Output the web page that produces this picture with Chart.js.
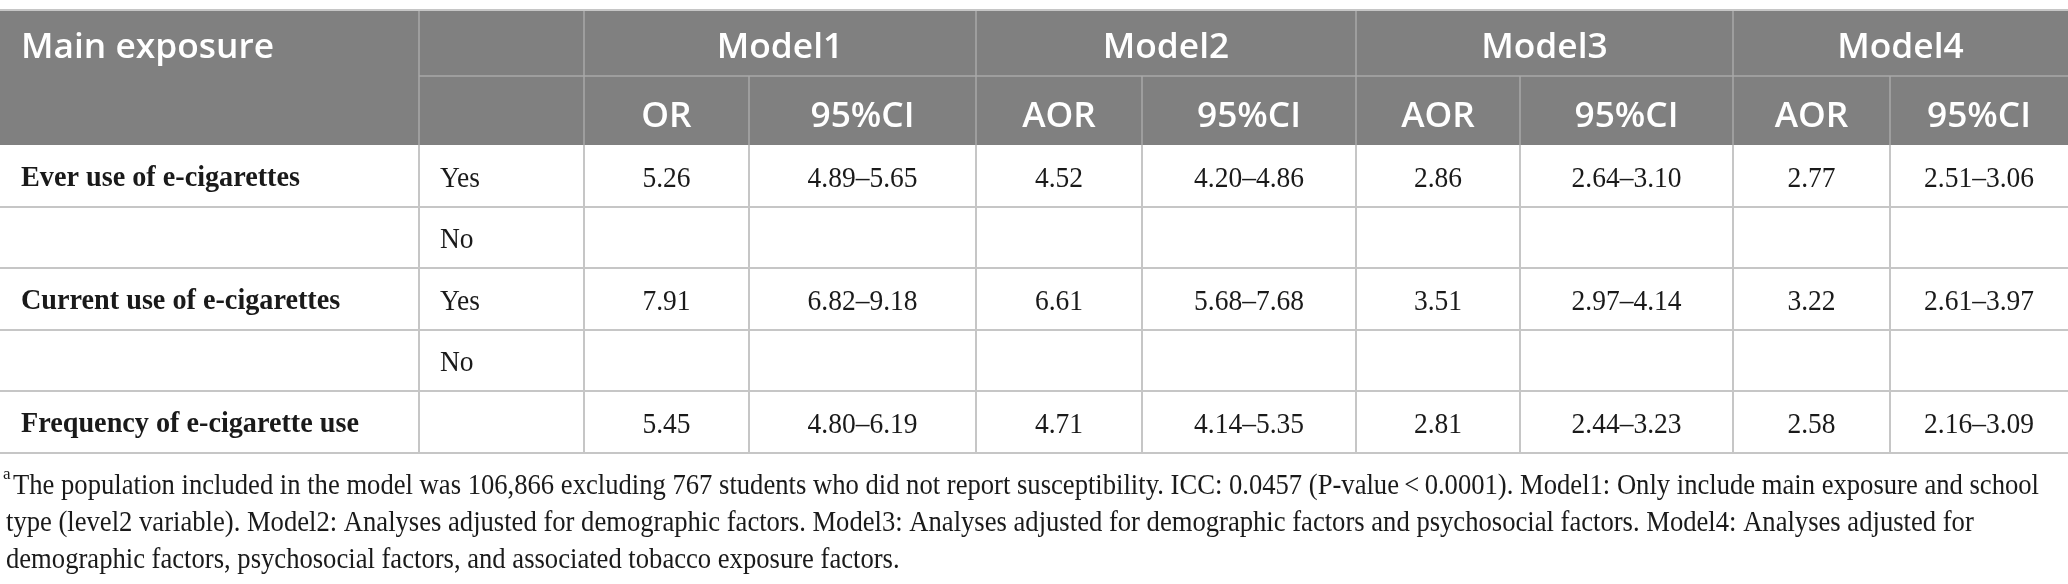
<!DOCTYPE html>
<html>
<head>
    <script src="https://cdn.jsdelivr.net/npm/chart.js@4.4.0/dist/chart.umd.min.js"></script>
    <title>E-cigarette exposure models</title>
    <style>
        body { margin: 0; background: #fff; }
        #graph-area { width: 2068px; height: 584px; }
    </style>
</head>
<body>
<div id="graph-area">
    <canvas id="myChart" width="2068" height="584"></canvas>
</div>

<script>
    // ---- table content ----
    var exposures = ['Ever use of e-cigarettes', '', 'Current use of e-cigarettes', '', 'Frequency of e-cigarette use'];
    var answers = ['Yes', 'No', 'Yes', 'No', ''];
    var models = ['Model1', 'Model2', 'Model3', 'Model4'];
    var estLabels = ['OR', 'AOR', 'AOR', 'AOR'];
    var ciLabel = '95%CI';

    var m1Est = [5.26, null, 7.91, null, 5.45];
    var m1Lo  = [4.89, null, 6.82, null, 4.80];
    var m1Hi  = [5.65, null, 9.18, null, 6.19];
    var m2Est = [4.52, null, 6.61, null, 4.71];
    var m2Lo  = [4.20, null, 5.68, null, 4.14];
    var m2Hi  = [4.86, null, 7.68, null, 5.35];
    var m3Est = [2.86, null, 3.51, null, 2.81];
    var m3Lo  = [2.64, null, 2.97, null, 2.44];
    var m3Hi  = [3.10, null, 4.14, null, 3.23];
    var m4Est = [2.77, null, 3.22, null, 2.58];
    var m4Lo  = [2.51, null, 2.61, null, 2.16];
    var m4Hi  = [3.06, null, 3.97, null, 3.09];

    var noteLines = [
        'The population included in the model was 106,866 excluding 767 students who did not report susceptibility. ICC: 0.0457 (P-value\u2009<\u20090.0001). Model1: Only include main exposure and school',
        'type (level2 variable). Model2: Analyses adjusted for demographic factors. Model3: Analyses adjusted for demographic factors and psychosocial factors. Model4: Analyses adjusted for',
        'demographic factors, psychosocial factors, and associated tobacco exposure factors.'
    ];

    // ---- layout (column widths / row heights in scale units) ----
    var colWidths = [419, 165, 165, 227, 166, 214, 164, 213, 157, 178];
    var rowHeights = [66, 69, 62, 61, 62, 61, 62];

    var colEdges = [0];
    colWidths.forEach(function (w) { colEdges.push(colEdges[colEdges.length - 1] + w); });
    var rowEdges = [0];
    rowHeights.forEach(function (h) { rowEdges.push(rowEdges[rowEdges.length - 1] + h); });
    var totalW = colEdges[colEdges.length - 1];
    var totalH = rowEdges[rowEdges.length - 1];

    var headerFont = '600 35px "Open Sans"';
    var boldFont = 'bold 29px "Liberation Serif"';
    var bodyFont = '29px "Liberation Serif"';
    var noteFont = '30px "Liberation Serif"';

    function stretchFor(ctx, font, sample, width) {
        ctx.font = font;
        return width / ctx.measureText(sample).width;
    }

    function drawText(ctx, text, x, y, align, sx) {
        ctx.save();
        ctx.translate(x, y);
        ctx.scale(sx, 1);
        ctx.textAlign = align;
        ctx.fillText(text, 0, 0);
        ctx.restore();
    }

    function line(ctx, x1, y1, x2, y2) {
        ctx.beginPath();
        ctx.moveTo(x1, y1);
        ctx.lineTo(x2, y2);
        ctx.stroke();
    }

    var tablePlugin = {
        id: 'tablePlugin',
        afterDraw: function (chart) {
            var ctx = chart.ctx;
            var xs = chart.scales.x, ys = chart.scales.y;
            var X = function (v) { return xs.getPixelForValue(v); };
            var Y = function (v) { return ys.getPixelForValue(v); };
            var midX = function (a, b) { return (X(colEdges[a]) + X(colEdges[b])) / 2; };
            var midY = function (r) { return (Y(rowEdges[r]) + Y(rowEdges[r + 1])) / 2; };

            ctx.save();
            // header background
            ctx.fillStyle = '#808080';
            ctx.fillRect(X(0), Y(0), X(totalW) - X(0), Y(rowEdges[2]) - Y(0));

            // header lines
            ctx.strokeStyle = '#a8a8a8';
            ctx.lineWidth = 1.5;
            line(ctx, X(colEdges[1]), Y(rowEdges[1]), X(totalW), Y(rowEdges[1]));
            [1, 2, 4, 6, 8].forEach(function (c) {
                line(ctx, X(colEdges[c]), Y(0), X(colEdges[c]), Y(rowEdges[1]));
            });
            for (var c = 1; c < colEdges.length - 1; c++) {
                line(ctx, X(colEdges[c]), Y(rowEdges[1]), X(colEdges[c]), Y(rowEdges[2]));
            }

            // body lines
            ctx.strokeStyle = '#c6c6c6';
            ctx.lineWidth = 2;
            line(ctx, X(0), Y(0), X(totalW), Y(0));
            for (var r = 3; r < rowEdges.length; r++) {
                line(ctx, X(0), Y(rowEdges[r]), X(totalW), Y(rowEdges[r]));
            }
            for (var c2 = 1; c2 < colEdges.length - 1; c2++) {
                line(ctx, X(colEdges[c2]), Y(rowEdges[2]), X(colEdges[c2]), Y(totalH));
            }

            // header text
            var hs = stretchFor(ctx, headerFont, 'Main exposure', 253);
            ctx.fillStyle = '#ffffff';
            ctx.textBaseline = 'middle';
            ctx.font = headerFont;
            drawText(ctx, 'Main exposure', X(0) + 21, midY(0) + 5, 'left', hs);
            models.forEach(function (m, i) {
                drawText(ctx, m, midX(2 + 2 * i, 4 + 2 * i), midY(0) + 5, 'center', hs);
                drawText(ctx, estLabels[i], midX(2 + 2 * i, 3 + 2 * i), midY(1) + 7, 'center', hs);
                drawText(ctx, ciLabel, midX(3 + 2 * i, 4 + 2 * i), midY(1) + 7, 'center', hs);
            });

            // body text
            var est = [m1Est, m2Est, m3Est, m4Est];
            var lo = [m1Lo, m2Lo, m3Lo, m4Lo];
            var hi = [m1Hi, m2Hi, m3Hi, m4Hi];
            var bs = stretchFor(ctx, boldFont, 'Frequency of e-cigarette use', 338);
            var ns = stretchFor(ctx, bodyFont, '4.89\u20135.65', 110);
            ctx.fillStyle = '#1a1a1a';
            exposures.forEach(function (label, i) {
                var yy = midY(i + 2) + 3;
                ctx.font = boldFont;
                if (label) drawText(ctx, label, X(0) + 21, yy, 'left', bs);
                ctx.font = bodyFont;
                if (answers[i]) drawText(ctx, answers[i], X(colEdges[1]) + 21, yy, 'left', ns);
                for (var m = 0; m < 4; m++) {
                    if (est[m][i] === null) continue;
                    drawText(ctx, est[m][i].toFixed(2), midX(2 + 2 * m, 3 + 2 * m), yy, 'center', ns);
                    drawText(ctx, lo[m][i].toFixed(2) + '\u2013' + hi[m][i].toFixed(2), midX(3 + 2 * m, 4 + 2 * m), yy, 'center', ns);
                }
            });

            // footnote
            var fs = stretchFor(ctx, noteFont, noteLines[0], 2026);
            var base = Y(totalH);
            ctx.font = '17px "Liberation Serif"';
            ctx.textAlign = 'left';
            ctx.fillText('a', X(0) + 3, base + 22);
            ctx.font = noteFont;
            noteLines.forEach(function (t, i) {
                drawText(ctx, t, X(0) + (i === 0 ? 13 : 6), base + 33 + 37 * i, 'left', fs);
            });
            ctx.restore();
        }
    };

    var ctx = document.getElementById('myChart').getContext('2d');
    var myChart = new Chart(ctx, {
        type: 'scatter',
        data: { datasets: [] },
        options: {
            responsive: false,
            animation: false,
            devicePixelRatio: 1,
            layout: { padding: { top: 10, bottom: 131, left: 0, right: 0 } },
            scales: {
                x: { type: 'linear', min: 0, max: totalW, display: false },
                y: { type: 'linear', min: 0, max: totalH, reverse: true, display: false }
            },
            plugins: {
                legend: { display: false },
                tooltip: { enabled: false }
            }
        },
        plugins: [tablePlugin]
    });
</script>
</body>
</html>
